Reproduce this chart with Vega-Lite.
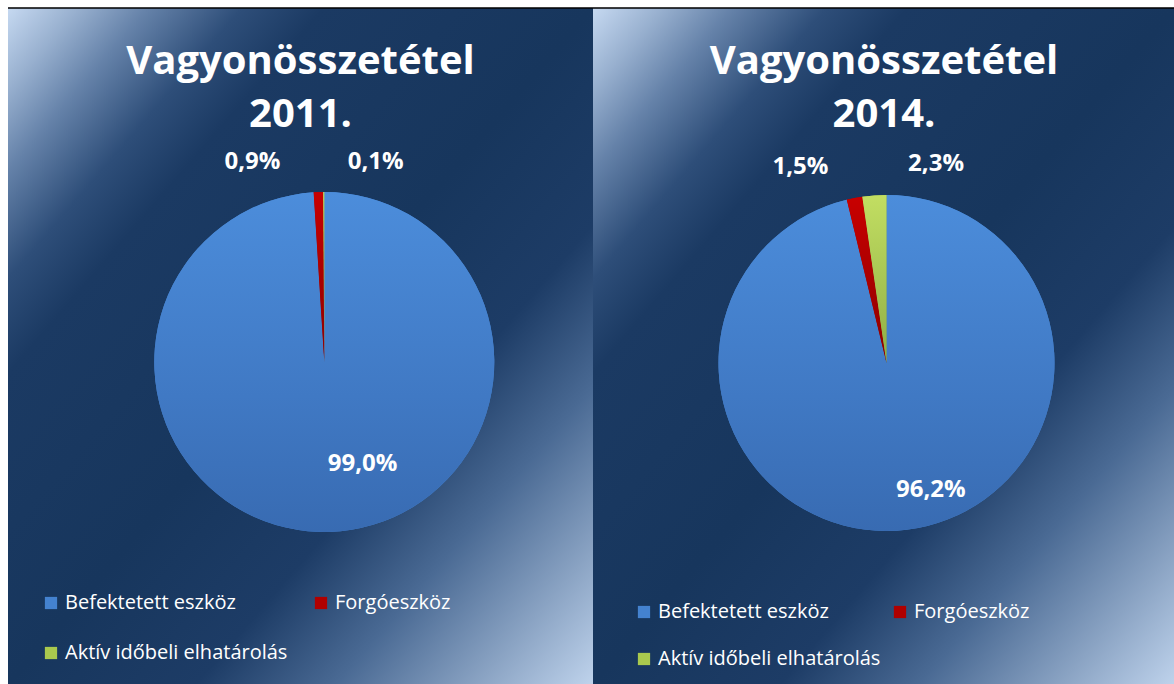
{
  "$schema": "https://vega.github.io/schema/vega-lite/v6.json",
  "background": "white",
  "padding": {"left": 7, "top": 7, "right": 0, "bottom": 0},
  "spacing": 0,
  "bounds": "flush",
  "datasets": {
    "shares": [
      {"year": 2011, "idx": 1, "cat": "Befektetett eszköz", "share": 0.990},
      {"year": 2011, "idx": 2, "cat": "Forgóeszköz", "share": 0.009},
      {"year": 2011, "idx": 3, "cat": "Aktív időbeli elhatárolás", "share": 0.001},
      {"year": 2014, "idx": 1, "cat": "Befektetett eszköz", "share": 0.962},
      {"year": 2014, "idx": 2, "cat": "Forgóeszköz", "share": 0.015},
      {"year": 2014, "idx": 3, "cat": "Aktív időbeli elhatárolás", "share": 0.023}
    ]
  },
  "hconcat": [
    {
      "width": 585,
      "height": 677,
      "view": {
        "stroke": "black",
        "strokeWidth": 1.5,
        "strokeDash": [585, 4000],
        "fill": {
          "gradient": "linear", "x1": 0, "y1": 0, "x2": 1, "y2": 1,
          "stops": [
            {"offset": 0, "color": "#c6d9f1"},
            {"offset": 0.06, "color": "#98b0cf"},
            {"offset": 0.12, "color": "#6582a9"},
            {"offset": 0.2, "color": "#2e4e79"},
            {"offset": 0.27, "color": "#1b3a63"},
            {"offset": 0.5, "color": "#17365d"},
            {"offset": 0.66, "color": "#1d3c66"},
            {"offset": 0.78, "color": "#4a6a94"},
            {"offset": 0.9, "color": "#8aa3c3"},
            {"offset": 1, "color": "#bfd3ec"}
          ]
        }
      },
      "title": {"text": ["Vagyonösszetétel", "2011."], "offset": -127, "baseline": "top"},
      "data": {"name": "shares"},
      "transform": [{"filter": "datum.year === 2011"}],
      "encoding": {
        "theta": {"field": "share", "type": "quantitative", "stack": true},
        "order": {"field": "idx", "type": "ordinal"}
      },
      "layer": [
        {
          "mark": {"type": "arc", "outerRadius": 170, "x": 316.3, "y": 354},
          "encoding": {
            "color": {
              "field": "cat", "type": "nominal",
              "scale": {"domain": ["Befektetett eszköz", "Forgóeszköz", "Aktív időbeli elhatárolás"], "range": ["#4482cf", "#b00000", "#a9c94e"]},
              "legend": {"orient": "none", "legendX": 33, "legendY": 585, "direction": "horizontal", "columns": 2, "columnPadding": 23, "rowPadding": 30}
            }
          }
        },
        {
          "mark": {"type": "arc", "outerRadius": 170, "x": 316.3, "y": 354},
          "encoding": {
            "fill": {
              "condition": [
                {"test": "datum.cat === 'Forgóeszköz'", "value": {"gradient": "linear", "x1": 0, "y1": 0, "x2": 0, "y2": 1, "stops": [{"offset": 0, "color": "#c80000"}, {"offset": 1, "color": "#8c0000"}]}},
                {"test": "datum.cat === 'Aktív időbeli elhatárolás'", "value": {"gradient": "linear", "x1": 0, "y1": 0, "x2": 0, "y2": 1, "stops": [{"offset": 0, "color": "#c2de62"}, {"offset": 1, "color": "#8fae45"}]}}
              ],
              "value": {"gradient": "linear", "x1": 0, "y1": 0, "x2": 0, "y2": 1, "stops": [{"offset": 0, "color": "#4c8ddb"}, {"offset": 0.6, "color": "#4079c4"}, {"offset": 1, "color": "#386bb2"}]}
            }
          }
        },
        {
          "mark": {
            "type": "text", "color": "white", "fontSize": 24, "fontWeight": "bold", "align": "center", "baseline": "middle",
            "x": 316.3, "y": 354,
            "radius": {"expr": "datum.cat === 'Befektetett eszköz' ? 102 : 200"},
            "dx": {"expr": "datum.cat === 'Forgóeszköz' ? -65 : datum.cat === 'Aktív időbeli elhatárolás' ? 52 : 35"}
          },
          "encoding": {
            "text": {"field": "share", "type": "quantitative", "format": ".1%"}
          }
        }
      ]
    },
    {
      "width": 582,
      "height": 677,
      "view": {
        "stroke": "black",
        "strokeWidth": 1.5,
        "strokeDash": [582, 4000],
        "fill": {
          "gradient": "linear", "x1": 0, "y1": 0, "x2": 1, "y2": 1,
          "stops": [
            {"offset": 0, "color": "#c6d9f1"},
            {"offset": 0.06, "color": "#98b0cf"},
            {"offset": 0.12, "color": "#6582a9"},
            {"offset": 0.2, "color": "#2e4e79"},
            {"offset": 0.27, "color": "#1b3a63"},
            {"offset": 0.5, "color": "#17365d"},
            {"offset": 0.66, "color": "#1d3c66"},
            {"offset": 0.78, "color": "#4a6a94"},
            {"offset": 0.9, "color": "#8aa3c3"},
            {"offset": 1, "color": "#bfd3ec"}
          ]
        }
      },
      "title": {"text": ["Vagyonösszetétel", "2014."], "offset": -127, "baseline": "top"},
      "data": {"name": "shares"},
      "transform": [{"filter": "datum.year === 2014"}],
      "encoding": {
        "theta": {"field": "share", "type": "quantitative", "stack": true},
        "order": {"field": "idx", "type": "ordinal"}
      },
      "layer": [
        {
          "mark": {"type": "arc", "outerRadius": 168, "x": 293.5, "y": 355},
          "encoding": {
            "color": {
              "field": "cat", "type": "nominal",
              "scale": {"domain": ["Befektetett eszköz", "Forgóeszköz", "Aktív időbeli elhatárolás"], "range": ["#4482cf", "#b00000", "#a9c94e"]},
              "legend": {"orient": "none", "legendX": 41, "legendY": 594, "direction": "horizontal", "columns": 2, "columnPadding": 9, "rowPadding": 27}
            }
          }
        },
        {
          "mark": {"type": "arc", "outerRadius": 168, "x": 293.5, "y": 355},
          "encoding": {
            "fill": {
              "condition": [
                {"test": "datum.cat === 'Forgóeszköz'", "value": {"gradient": "linear", "x1": 0, "y1": 0, "x2": 0, "y2": 1, "stops": [{"offset": 0, "color": "#c80000"}, {"offset": 1, "color": "#8c0000"}]}},
                {"test": "datum.cat === 'Aktív időbeli elhatárolás'", "value": {"gradient": "linear", "x1": 0, "y1": 0, "x2": 0, "y2": 1, "stops": [{"offset": 0, "color": "#c2de62"}, {"offset": 1, "color": "#8fae45"}]}}
              ],
              "value": {"gradient": "linear", "x1": 0, "y1": 0, "x2": 0, "y2": 1, "stops": [{"offset": 0, "color": "#4c8ddb"}, {"offset": 0.6, "color": "#4079c4"}, {"offset": 1, "color": "#386bb2"}]}
            }
          }
        },
        {
          "mark": {
            "type": "text", "color": "white", "fontSize": 24, "fontWeight": "bold", "align": "center", "baseline": "middle",
            "x": 293.5, "y": 355,
            "radius": {"expr": "datum.cat === 'Befektetett eszköz' ? 128 : 200"},
            "dx": {"expr": "datum.cat === 'Forgóeszköz' ? -48 : datum.cat === 'Aktív időbeli elhatárolás' ? 64 : 29"}
          },
          "encoding": {
            "text": {"field": "share", "type": "quantitative", "format": ".1%"}
          }
        }
      ]
    }
  ],
  "resolve": {"legend": {"color": "independent"}},
  "config": {
    "locale": {"number": {"decimal": ",", "thousands": " ", "grouping": [3], "currency": ["", " Ft"]}},
    "font": "Open Sans",
    "title": {"color": "white", "fontSize": 40, "fontWeight": "bold", "font": "Open Sans", "lineHeight": 53, "anchor": "middle"},
    "legend": {
      "title": null, "labelColor": "white", "labelFontSize": 20, "labelFont": "Open Sans", "labelLimit": 400,
      "symbolType": "square", "symbolSize": 150, "symbolStrokeWidth": 0, "labelOffset": 4, "padding": 0
    }
  }
}
